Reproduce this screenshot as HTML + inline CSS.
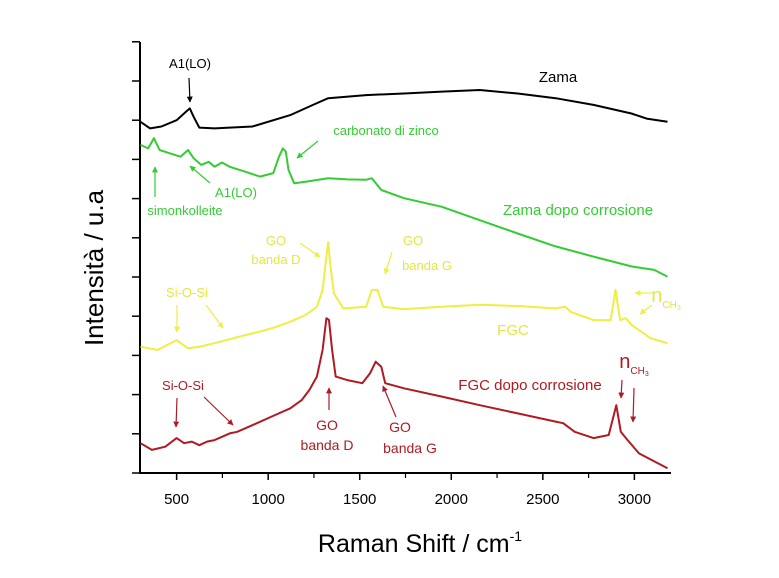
<!DOCTYPE html>
<html><head><meta charset="utf-8"><style>
body{margin:0;background:#fff}
svg text{font-family:"Liberation Sans",Arial,sans-serif}
</style></head><body>
<svg id="c" width="779" height="573" viewBox="0 0 779 573"></svg>
<script>
const xTicks=[500,1000,1500,2000,2500,3000];
const xMinor=[750,1250,1750,2250,2750];
const zamaX=[303,355,417,500,552,572,593,624,707,914,1121,1245,1328,1535,1742,1949,2156,2363,2570,2777,2984,3067,3181];
const zamaY=[8.96,8.79,8.84,9.00,9.22,9.30,9.09,8.81,8.79,8.84,9.13,9.39,9.56,9.64,9.68,9.73,9.77,9.68,9.56,9.39,9.17,9.04,8.96];
const zcorrX=[303,345,376,407,459,521,562,593,635,676,707,748,790,873,955,1028,1059,1080,1096,1111,1142,1204,1328,1432,1535,1566,1618,1742,1949,2156,2363,2570,2777,2984,3108,3181];
const zcorrY=[8.37,8.28,8.54,8.24,8.16,8.07,8.24,8.03,7.86,7.94,7.81,7.92,7.81,7.69,7.56,7.65,8.07,8.28,8.20,7.73,7.39,7.43,7.52,7.49,7.48,7.52,7.22,7.01,6.79,6.45,6.11,5.78,5.52,5.27,5.18,5.01];
const fgcX=[303,397,500,562,624,707,811,914,1018,1121,1204,1266,1297,1318,1328,1338,1359,1411,1535,1566,1597,1628,1742,1949,2156,2363,2570,2622,2653,2777,2870,2897,2922,2953,2984,3088,3181];
const fgcY=[3.22,3.14,3.39,3.18,3.22,3.31,3.44,3.56,3.69,3.86,4.03,4.24,4.67,5.52,5.89,5.35,4.58,4.20,4.24,4.67,4.67,4.24,4.18,4.24,4.29,4.26,4.20,4.24,4.11,3.90,3.90,4.67,3.90,3.95,3.78,3.44,3.31];
const fcorrX=[303,365,438,500,541,583,624,666,707,790,831,914,1018,1121,1183,1225,1266,1297,1318,1332,1349,1369,1432,1514,1556,1587,1618,1639,1742,1949,2156,2363,2570,2611,2674,2777,2860,2901,2926,2963,3025,3181];
const fcorrY=[0.76,0.59,0.67,0.89,0.76,0.80,0.71,0.80,0.84,1.01,1.05,1.22,1.44,1.65,1.86,2.12,2.46,3.14,3.95,3.90,3.14,2.46,2.37,2.29,2.54,2.84,2.71,2.29,2.16,1.95,1.73,1.52,1.31,1.27,1.05,0.89,0.97,1.73,1.05,0.84,0.50,0.12];

const NS="http://www.w3.org/2000/svg";
const svg=document.getElementById('c');
const X0=140,X1=671,XMIN=300,XMAX=3200,YB=473,YT=42,YSTEP=39.2;
const sx=v=>X0+(v-XMIN)/(XMAX-XMIN)*(X1-X0);
const sy=v=>YB-v*YSTEP;
function mk(tag,attrs,parent){const e=document.createElementNS(NS,tag);for(const k in attrs)e.setAttribute(k,attrs[k]);(parent||svg).appendChild(e);return e;}

const defs=mk('defs',{});
['#000','#33cc33','#eeee44','#b01a22'].forEach((c,i)=>{
  const m=mk('marker',{id:'ar'+i,viewBox:'0 0 10 10',refX:9,refY:5,markerWidth:5,markerHeight:5,orient:'auto'},defs);
  mk('path',{d:'M0,0 L10,5 L0,10 z',fill:c},m);
});

const ax=mk('path',{d:`M${X0},${YT} L${X0},${YB} L${X1},${YB}`,fill:'none',stroke:'#000','stroke-width':2});


for(let i=0;i<=11;i++){
  const t=mk('line',{x1:X0-8,x2:X0,y1:YB-i*YSTEP,y2:YB-i*YSTEP,stroke:'#000','stroke-width':1.5});
  
  
}
xTicks.forEach(v=>{
  const t=mk('line',{x1:sx(v),x2:sx(v),y1:YB,y2:YB+7,stroke:'#000','stroke-width':1.5});
  
  
  const l=mk('text',{x:sx(v),y:YB+31,'text-anchor':'middle','font-size':15,fill:'#000'});
  l.textContent=v;
  
  
});
xMinor.forEach(v=>{
  const t=mk('line',{x1:sx(v),x2:sx(v),y1:YB,y2:YB+5,stroke:'#000','stroke-width':1.2});
  
  
});
const xt=mk('text',{x:420,y:552,'text-anchor':'middle','font-size':25,fill:'#000'});
xt.innerHTML='Raman Shift / cm<tspan dy="-11" font-size="14">-1</tspan>';


const yt=mk('text',{x:0,y:0,'text-anchor':'middle','font-size':26,fill:'#000',transform:'translate(103,268) rotate(-90)'});
yt.textContent='Intensità / u.a';



function series(xs,ys,color,name){
  const d=xs.map((x,i)=>(i?'L':'M')+sx(x).toFixed(1)+','+sy(ys[i]).toFixed(1)).join(' ');
  const p=mk('path',{d,fill:'none',stroke:color,'stroke-width':2,'stroke-linejoin':'round'});
  
  
}
series(zamaX,zamaY,'#000','zama-line');
series(zcorrX,zcorrY,'#33cc33','zama-corrosion-line');
series(fgcX,fgcY,'#eeee44','fgc-line');
series(fcorrX,fcorrY,'#b01a22','fgc-corrosion-line');

function txt(x,y,s,color,size,name){
  const t=mk('text',{x,y,'text-anchor':'middle','font-size':size,fill:color});
  t.innerHTML=s;
  
  
}
function arr(x1,y1,x2,y2,i,name){
  const c=['#000','#33cc33','#eeee44','#b01a22'][i];
  const a=mk('line',{x1,y1,x2,y2,stroke:c,'stroke-width':1.2,'marker-end':`url(#ar${i})`});
  
  
}
txt(190,68,'A1(LO)','#000',13,'a1lo-label');arr(189,78,190,102,0,'a1lo-arrow');
txt(558,82,'Zama','#000',15,'zama-label');
const G='#33cc33';
txt(386,135,'carbonato di zinco',G,13,'carbonato-label');arr(318,141,297,158,1,'carbonato-arrow');
txt(236,197,'A1(LO)',G,13,'a1lo-green-label');arr(210,183,190,166,1,'a1lo-green-arrow');
txt(185,215,'simonkolleite',G,13,'simonkolleite-label');arr(155,197,155,167,1,'simonkolleite-arrow');
txt(578,215,'Zama dopo corrosione',G,15,'zama-corrosion-label');
const Y='#e6e640';
txt(276,245,'GO',Y,13,'go-d-yellow-label');txt(276,264,'banda D',Y,13,'banda-d-yellow-label');arr(300,243,320,257,2,'go-d-yellow-arrow');
txt(413,245,'GO',Y,13,'go-g-yellow-label');txt(427,270,'banda G',Y,13,'banda-g-yellow-label');arr(392,252,385,274,2,'go-g-yellow-arrow');
txt(187,297,'Si-O-Si',Y,13,'sios-yellow-label');arr(177,305,177,332,2,'sios-yellow-arrow1');arr(206,305,223,328,2,'sios-yellow-arrow2');
txt(513,335,'FGC',Y,15,'fgc-label');
txt(666,302,'n<tspan font-size="10" dy="6">CH<tspan font-size="7" dy="2">3</tspan></tspan>',Y,20,'nch3-yellow-label');
arr(652,293,635,293,2,'nch3-yellow-arrow1');arr(652,305,640,314,2,'nch3-yellow-arrow2');
const R='#b01a22';
txt(183,390,'Si-O-Si',R,13,'sios-red-label');arr(177,398,176,427,3,'sios-red-arrow1');arr(204,397,233,425,3,'sios-red-arrow2');
txt(327,430,'GO',R,14,'go-d-red-label');txt(327,450,'banda D',R,14,'banda-d-red-label');arr(329,410,329,388,3,'go-d-red-arrow');
txt(400,432,'GO',R,14,'go-g-red-label');txt(410,453,'banda G',R,14,'banda-g-red-label');arr(396,417,383,386,3,'go-g-red-arrow');
txt(530,390,'FGC dopo corrosione',R,15,'fgc-corrosion-label');
txt(634,368,'n<tspan font-size="10" dy="6">CH<tspan font-size="7" dy="2">3</tspan></tspan>',R,20,'nch3-red-label');
arr(622,380,621,398,3,'nch3-red-arrow1');arr(634,388,633,422,3,'nch3-red-arrow2');
</script>
</body></html>
